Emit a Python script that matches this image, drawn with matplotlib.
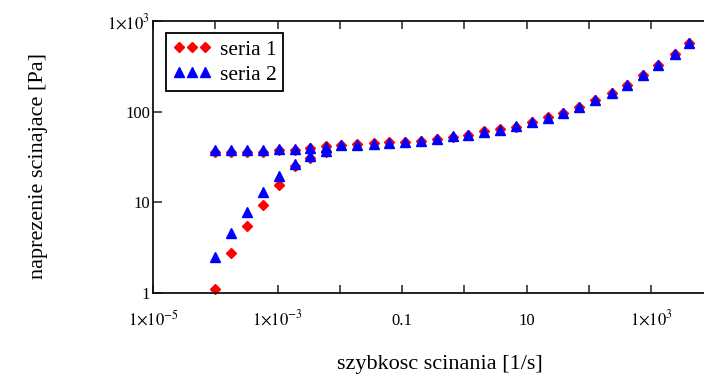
import numpy as np
import matplotlib
matplotlib.use("Agg")
import matplotlib.pyplot as plt

# ----------- dane -----------
# gałąź główna (wspólna dla obu serii przy dużych szybkościach)
x_main = [1.0e-4, 1.79e-4, 3.24e-4, 5.85e-4, 1.06e-3, 1.91e-3, 3.33e-3, 6.01e-3,
          1.05e-2, 1.89e-2, 3.55e-2, 6.18e-2, 0.112, 0.202, 0.365, 0.659,
          1.15, 2.07, 3.75, 6.78, 12.2, 22.1, 38.5, 69.7, 126, 236,
          411, 743, 1294, 2432, 4074]
y1_main = [36.3, 36.3, 36.0, 36.2, 37.5, 37.9, 39.4, 41.8, 43.0, 43.5, 44.6, 45.8,
           46.2, 47.5, 50.5, 53.2, 55.2, 60.5, 64.0, 68.6, 77.0, 86.5, 97.0, 113.0,
           136.0, 161.0, 198.0, 254.0, 330.0, 436.0, 576.0]
y2_main = [37.6, 37.6, 37.4, 37.4, 39.0, 39.0, 39.7, 41.1, 42.6, 43.2, 44.5, 45.5,
           46.6, 47.8, 50.3, 53.6, 55.7, 60.1, 63.3, 69.2, 77.6, 85.9, 97.5, 113.6,
           135.7, 162.0, 199.0, 253.0, 331.0, 437.0, 578.0]

# gałąź dolna (rozruch przy małych szybkościach)
x_low = [1.0e-4, 1.79e-4, 3.24e-4, 5.85e-4, 1.06e-3, 1.91e-3, 3.33e-3, 6.01e-3]
y1_low = [1.10, 2.79, 5.50, 9.46, 15.6, 25.0, 31.0, 36.1]
y2_low = [2.52, 4.57, 7.89, 13.1, 19.4, 26.4, 32.7, 36.4]

x_ticks = [1e-5, 1e-4, 1e-3, 1e-2, 0.1, 1, 10, 100, 1e3]
x_ticklabels = [r"$1{\times}10^{-5}$", "", r"$1{\times}10^{-3}$", "", "0.1", "",
                "10", "", r"$1{\times}10^{3}$"]
y_ticks = [1, 10, 100, 1000]
y_ticklabels = ["1", "10", "100", r"$1{\times}10^{3}$"]

# ----------- wykres -----------
plt.rcParams["font.family"] = ["Liberation Serif", "DejaVu Serif"]
plt.rcParams["mathtext.fontset"] = "stix"

fig = plt.figure(figsize=(7.04, 3.74), dpi=100)
ax = fig.add_axes([153 / 704, 1 - 293 / 374, 551 / 704, 272 / 374])

ax.plot(np.concatenate([x_low, x_main]), np.concatenate([y1_low, y1_main]),
        linestyle="none", marker="D", ms=4.8, color="#ff0000", mec="#ff0000",
        label="seria 1", clip_on=False)
ax.plot(np.concatenate([x_low, x_main]), np.concatenate([y2_low, y2_main]),
        linestyle="none", marker="^", ms=7.2, color="#0000ff", mec="#0000ff",
        label="seria 2", clip_on=False)

ax.set_xscale("log")
ax.set_yscale("log")
ax.set_xlim(1e-5, 10 ** 3.851)
ax.set_ylim(1, 1000)

ax.set_xticks(x_ticks)
ax.set_xticklabels(x_ticklabels)
ax.set_yticks(y_ticks)
ax.set_yticklabels(y_ticklabels)
ax.minorticks_off()

ax.tick_params(axis="x", direction="in", length=6, width=1.2, top=True,
               pad=23, labelsize=12, color="#333333")
ax.tick_params(axis="y", direction="in", length=6.5, width=1.2,
               pad=2, labelsize=12, color="#333333")
for lbl in ax.get_xticklabels():
    lbl.set_verticalalignment("baseline")

ax.spines["right"].set_visible(False)
for s in ["left", "bottom", "top"]:
    ax.spines[s].set_linewidth(1.3)
    ax.spines[s].set_color("#111111")

leg = ax.legend(loc="upper left", bbox_to_anchor=((166 - 153) / 551, (293 - 33) / 272),
                numpoints=3, fontsize=15.5, handlelength=1.8, handletextpad=0.4,
                borderpad=0.3, labelspacing=0.25, borderaxespad=0,
                fancybox=False, framealpha=1, edgecolor="black")
leg.get_frame().set_linewidth(1.3)

fig.text(440 / 704, 1 - 364 / 374, "szybkosc scinania [1/s]", ha="center",
         va="center", fontsize=16)
fig.text(39 / 704, 1 - 166 / 374, "naprezenie scinajace [Pa]", ha="center",
         va="center", rotation=90, fontsize=16)

fig.savefig("out.png", dpi=100)
